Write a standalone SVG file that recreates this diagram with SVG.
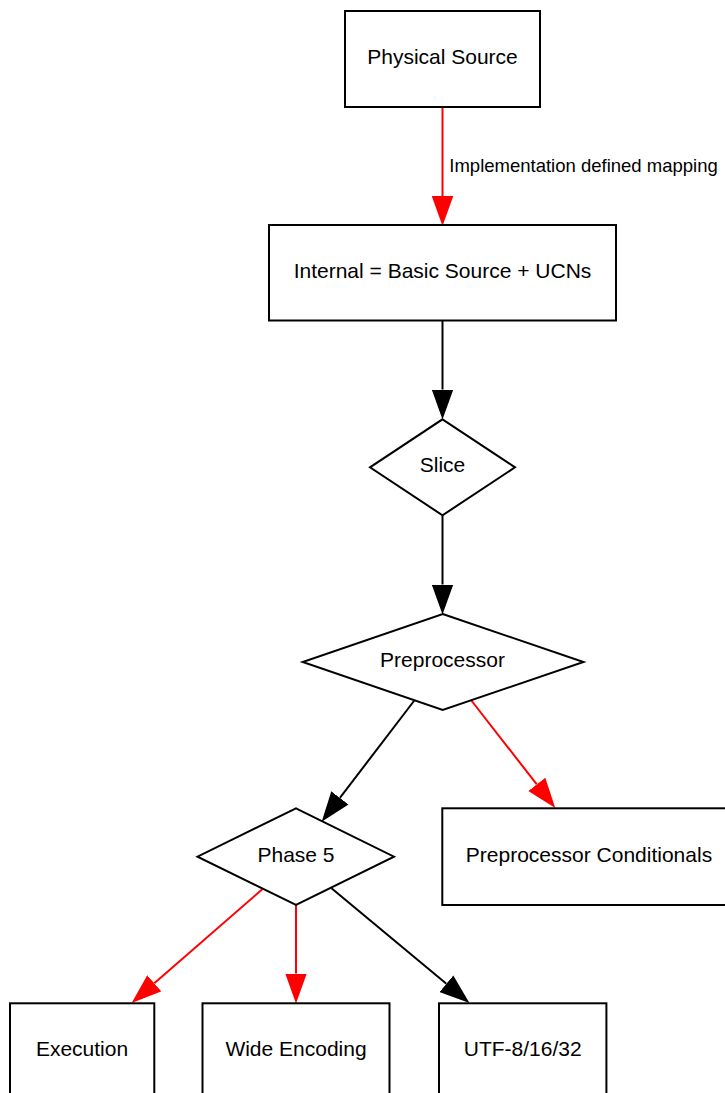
<svg xmlns="http://www.w3.org/2000/svg" width="725" height="1093" viewBox="0 0 725 1093">
<style>
.shape{fill:#ffffff;stroke:#000000;stroke-width:2}
.lbl{font-family:"Liberation Sans",Arial,Helvetica,sans-serif;font-size:21px;fill:#000000;text-anchor:middle}
.elbl{font-family:"Liberation Sans",Arial,Helvetica,sans-serif;font-size:18.5px;fill:#000000}
.red{stroke:#ff0000;stroke-width:2;fill:none;marker-end:url(#ahRed)}
.blk{stroke:#000000;stroke-width:2;fill:none;marker-end:url(#ahBlack)}
</style>
<defs>
<marker id="ahRed" viewBox="0 -11 30 22" markerWidth="30" markerHeight="22" refX="0" refY="0" markerUnits="userSpaceOnUse" orient="auto">
<path d="M0,-10.8 L30,0 L0,10.8 z" fill="#ff0000"/>
</marker>
<marker id="ahBlack" viewBox="0 -11 30 22" markerWidth="30" markerHeight="22" refX="0" refY="0" markerUnits="userSpaceOnUse" orient="auto">
<path d="M0,-10.8 L30,0 L0,10.8 z" fill="#000000"/>
</marker>
</defs>
<rect width="725" height="1093" fill="#ffffff"/>
<g id="connectors">
<line class="red" x1="442.5" y1="107" x2="442.5" y2="196"/>
<text class="elbl" x="449.3" y="171.5">Implementation defined mapping</text>
<line class="blk" x1="442.5" y1="321" x2="442.5" y2="389.5"/>
<line class="blk" x1="442.5" y1="515.5" x2="442.5" y2="584.5"/>
<line class="blk" x1="414.7" y1="700" x2="339.9" y2="797.9"/>
<line class="red" x1="471" y1="700" x2="536.8" y2="784.4"/>
<line class="red" x1="262.3" y1="889.3" x2="154.3" y2="983.3"/>
<line class="red" x1="296" y1="905" x2="296" y2="973.5"/>
<line class="blk" x1="331.5" y1="888.3" x2="446.4" y2="983.8"/>
</g>
<g id="physical-source">
<rect class="shape" x="345" y="11" width="195" height="96"/>
<text class="lbl" x="442.5" y="63.5">Physical Source</text>
</g>
<g id="internal">
<rect class="shape" x="269" y="225" width="347" height="95.5"/>
<text class="lbl" x="442.5" y="277.5">Internal = Basic Source + UCNs</text>
</g>
<g id="slice">
<polygon class="shape" points="442.5,419.3 515,467.3 442.5,515.3 370,467.3"/>
<text class="lbl" x="442.5" y="472">Slice</text>
</g>
<g id="preprocessor">
<polygon class="shape" points="442.7,614 583.5,662 442.7,710 302.7,662"/>
<text class="lbl" x="442.5" y="666.7">Preprocessor</text>
</g>
<g id="phase5">
<polygon class="shape" points="296,808.3 394,856.7 296,905 197.5,856.7"/>
<text class="lbl" x="296" y="861.5">Phase 5</text>
</g>
<g id="preprocessor-conditionals">
<rect class="shape" x="442.3" y="808.3" width="294" height="96.7"/>
<text class="lbl" x="589" y="861.5">Preprocessor Conditionals</text>
</g>
<g id="execution">
<rect class="shape" x="10" y="1003.3" width="144.3" height="96"/>
<text class="lbl" x="82" y="1056">Execution</text>
</g>
<g id="wide-encoding">
<rect class="shape" x="202.5" y="1003.3" width="187" height="96"/>
<text class="lbl" x="296" y="1056">Wide Encoding</text>
</g>
<g id="utf">
<rect class="shape" x="439" y="1003.3" width="167.4" height="96"/>
<text class="lbl" x="522.7" y="1056">UTF-8/16/32</text>
</g>
</svg>
